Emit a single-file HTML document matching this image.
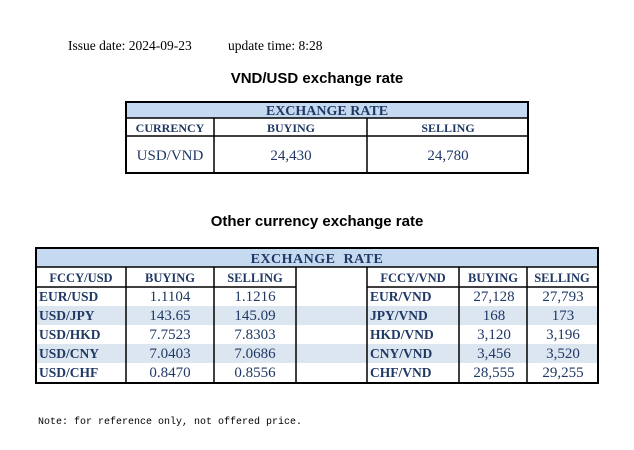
<!DOCTYPE html>
<html><head><meta charset="utf-8"><style>
html,body{margin:0;padding:0;background:#fff;width:634px;height:450px;overflow:hidden}
svg{display:block}
.s{font-family:"Liberation Serif",serif}
.h{font-family:"Liberation Serif",serif;font-weight:bold;fill:#1f3864}
.v{font-family:"Liberation Serif",serif;fill:#1f3864}
</style></head><body>
<svg width="634" height="450" xmlns="http://www.w3.org/2000/svg">
<text x="68" y="50" class="s" font-size="13.5" fill="#000">Issue date: 2024-09-23</text>
<text x="228" y="50" class="s" font-size="13.5" fill="#000">update time: 8:28</text>
<text x="317" y="83" font-family="Liberation Sans,sans-serif" font-weight="bold" font-size="15" text-anchor="middle">VND/USD exchange rate</text>

<rect x="126" y="102" width="402" height="16" fill="#c5d9f1"/>
<g stroke="#000" fill="none">
<rect x="126" y="102" width="402" height="71" stroke-width="2"/>
<line x1="126" y1="118" x2="528" y2="118" stroke-width="1.5"/>
<line x1="126" y1="136" x2="528" y2="136" stroke-width="1.5"/>
<line x1="214" y1="118" x2="214" y2="173" stroke-width="1.5"/>
<line x1="367" y1="118" x2="367" y2="173" stroke-width="1.5"/>
</g>
<text x="327" y="115" class="h" font-size="14" text-anchor="middle">EXCHANGE RATE</text>
<text x="170" y="132" class="h" font-size="12" text-anchor="middle">CURRENCY</text>
<text x="291" y="132" class="h" font-size="12" text-anchor="middle">BUYING</text>
<text x="448" y="132" class="h" font-size="12" text-anchor="middle">SELLING</text>
<text x="170" y="160" class="v" font-size="15" text-anchor="middle">USD/VND</text>
<text x="291" y="160" class="v" font-size="15" text-anchor="middle">24,430</text>
<text x="448" y="160" class="v" font-size="15" text-anchor="middle">24,780</text>

<text x="317" y="226" font-family="Liberation Sans,sans-serif" font-weight="bold" font-size="15" text-anchor="middle">Other currency exchange rate</text>

<rect x="36" y="248" width="562" height="19" fill="#c5d9f1"/>
<rect x="36" y="306" width="562" height="19" fill="#dce6f1"/>
<rect x="36" y="344" width="562" height="19" fill="#dce6f1"/>
<g stroke="#000" fill="none">
<rect x="36" y="248" width="562" height="135" stroke-width="2"/>
<line x1="36" y1="267" x2="598" y2="267" stroke-width="1.5"/>
<line x1="36" y1="287" x2="296" y2="287" stroke-width="1.5"/>
<line x1="367" y1="287" x2="598" y2="287" stroke-width="1.5"/>
<line x1="126" y1="267" x2="126" y2="383" stroke-width="1.5"/>
<line x1="214" y1="267" x2="214" y2="383" stroke-width="1.5"/>
<line x1="296" y1="267" x2="296" y2="383" stroke-width="1.5"/>
<line x1="367" y1="267" x2="367" y2="383" stroke-width="1.5"/>
<line x1="459" y1="267" x2="459" y2="383" stroke-width="1.5"/>
<line x1="527" y1="267" x2="527" y2="383" stroke-width="1.5"/>
</g>
<text x="317" y="263" class="h" font-size="14" text-anchor="middle" letter-spacing="0.5">EXCHANGE&#160;&#160;RATE</text>
<g font-size="12.5" text-anchor="middle">
<text x="81" y="282" class="h">FCCY/USD</text>
<text x="170" y="282" class="h">BUYING</text>
<text x="255" y="282" class="h">SELLING</text>
<text x="413" y="282" class="h">FCCY/VND</text>
<text x="493" y="282" class="h">BUYING</text>
<text x="562" y="282" class="h">SELLING</text>
</g>
<g font-size="13.5">
<text x="39" y="301" class="h">EUR/USD</text>
<text x="39" y="320" class="h">USD/JPY</text>
<text x="39" y="339" class="h">USD/HKD</text>
<text x="39" y="358" class="h">USD/CNY</text>
<text x="39" y="377" class="h">USD/CHF</text>
<text x="370" y="301" class="h">EUR/VND</text>
<text x="370" y="320" class="h">JPY/VND</text>
<text x="370" y="339" class="h">HKD/VND</text>
<text x="370" y="358" class="h">CNY/VND</text>
<text x="370" y="377" class="h">CHF/VND</text>
</g>
<g font-size="15" text-anchor="middle">
<text x="170" y="301" class="v">1.1104</text><text x="255" y="301" class="v">1.1216</text>
<text x="170" y="320" class="v">143.65</text><text x="255" y="320" class="v">145.09</text>
<text x="170" y="339" class="v">7.7523</text><text x="255" y="339" class="v">7.8303</text>
<text x="170" y="358" class="v">7.0403</text><text x="255" y="358" class="v">7.0686</text>
<text x="170" y="377" class="v">0.8470</text><text x="255" y="377" class="v">0.8556</text>
<text x="494" y="301" class="v">27,128</text><text x="563" y="301" class="v">27,793</text>
<text x="494" y="320" class="v">168</text><text x="563" y="320" class="v">173</text>
<text x="494" y="339" class="v">3,120</text><text x="563" y="339" class="v">3,196</text>
<text x="494" y="358" class="v">3,456</text><text x="563" y="358" class="v">3,520</text>
<text x="494" y="377" class="v">28,555</text><text x="563" y="377" class="v">29,255</text>
</g>
<text x="38" y="424" font-family="Liberation Mono,monospace" font-size="10" fill="#000">Note: for reference only, not offered price.</text>
</svg>
</body></html>
